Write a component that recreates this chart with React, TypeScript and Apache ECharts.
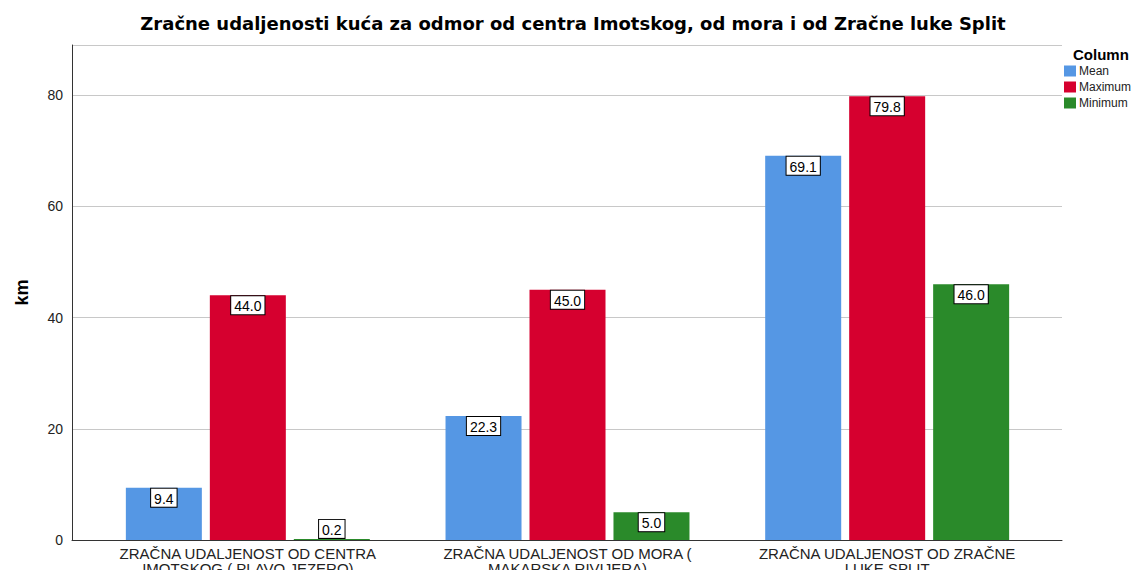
import React, { useEffect, useRef } from "react";
import * as echarts from "echarts";

const categories = [
  "ZRAČNA UDALJENOST OD CENTRA\nIMOTSKOG ( PLAVO JEZERO)",
  "ZRAČNA UDALJENOST OD MORA (\nMAKARSKA RIVIJERA)",
  "ZRAČNA UDALJENOST OD ZRAČNE\nLUKE SPLIT",
];
const meanValues = [9.4, 22.3, 69.1];
const maximumValues = [44.0, 45.0, 79.8];
const minimumValues = [0.2, 5.0, 46.0];
const yTicks = [0, 20, 40, 60, 80];

const FONT = "'Liberation Sans', Arial, sans-serif";

export default function App() {
  const ref = useRef<HTMLDivElement>(null);
  useEffect(() => {
    if (!ref.current) return;
    const chart = echarts.init(ref.current, null, { renderer: "svg" });
    const label = {
      show: true,
      position: "insideTop",
      distance: 1,
      formatter: (p: any) => Number(p.value).toFixed(1),
      color: "#000",
      fontSize: 14,
      fontFamily: FONT,
      backgroundColor: "#fff",
      borderColor: "#000",
      borderWidth: 1,
      padding: [3, 3, 1, 3],
    };
    const toData = (arr: number[]) =>
      arr.map((v) =>
        v < 2 ? { value: v, label: { position: "top", distance: 1 } } : v
      );
    const mk = (name: string, data: number[], color: string) => ({
      name,
      type: "bar",
      xAxisIndex: 1,
      yAxisIndex: 1,
      data: toData(data),
      barWidth: 76,
      barGap: "10.5%",
      itemStyle: { color },
      label,
    });
    chart.setOption({
      animation: false,
      backgroundColor: "#fff",
      title: {
        text: "Zračne udaljenosti kuća za odmor od centra Imotskog, od mora i od Zračne luke Split",
        left: 568,
        textAlign: "center",
        top: 9,
        textStyle: { fontFamily: "'DejaVu Sans', sans-serif", fontSize: 18, fontWeight: "bold", color: "#000" },
      },
      legend: {
        orient: "vertical",
        left: 1064,
        top: 65,
        padding: 0,
        itemWidth: 12,
        itemHeight: 11,
        itemGap: 4,
        icon: "rect",
        textStyle: { fontFamily: FONT, fontSize: 12, lineHeight: 12, color: "#222", padding: [0, 0, 0, -2] },
        data: ["Mean", "Maximum", "Minimum"],
      },
      graphic: [
        {
          type: "text",
          left: 1073,
          top: 47,
          style: { text: "Column", fontFamily: FONT, fontSize: 15, fontWeight: "bold", fill: "#000" },
        },
      ],
      grid: [
        { left: 72, right: 79, top: 45, bottom: 38, outerBoundsMode: "none", containLabel: false },
        { left: 88, right: 94, top: 45, bottom: 38, outerBoundsMode: "none", containLabel: false },
      ],
      xAxis: [
        {
          gridIndex: 0,
          type: "category",
          data: ["", "", ""],
          axisLine: { show: true, lineStyle: { color: "#333", width: 1 } },
          axisTick: { show: false },
          axisLabel: { show: false },
        },
        {
          gridIndex: 1,
          type: "category",
          data: categories,
          axisLine: { show: false },
          axisTick: { show: false },
          axisLabel: {
            fontFamily: FONT,
            fontSize: 15,
            color: "#222",
            lineHeight: 15,
            margin: 6,
            interval: 0,
          },
        },
      ],
      yAxis: [
        {
          gridIndex: 0,
          type: "value",
          min: 0,
          max: 89,
          interval: 20,
          name: "km",
          nameLocation: "middle",
          nameGap: 41,
          nameTextStyle: { fontFamily: FONT, fontSize: 18, fontWeight: "bold", color: "#000" },
          axisLine: { show: true, lineStyle: { color: "#333", width: 1 } },
          axisTick: { show: false },
          axisLabel: {
            fontFamily: FONT,
            fontSize: 14,
            color: "#222",
            margin: 9,
            formatter: (v: number) => (yTicks.includes(v) ? String(v) : ""),
          },
          splitLine: { show: true, lineStyle: { color: "#c8c8c8", width: 1 } },
        },
        {
          gridIndex: 1,
          type: "value",
          min: 0,
          max: 89,
          interval: 20,
          axisLine: { show: false },
          axisTick: { show: false },
          axisLabel: { show: false },
          splitLine: { show: false },
        },
      ],
      series: [
        mk("Mean", meanValues, "#5597e4"),
        mk("Maximum", maximumValues, "#d6002f"),
        mk("Minimum", minimumValues, "#2a8a2a"),
      ],
    });
    return () => chart.dispose();
  }, []);
  return <div ref={ref} style={{ width: 1141, height: 578, margin: -8 }} />;
}
